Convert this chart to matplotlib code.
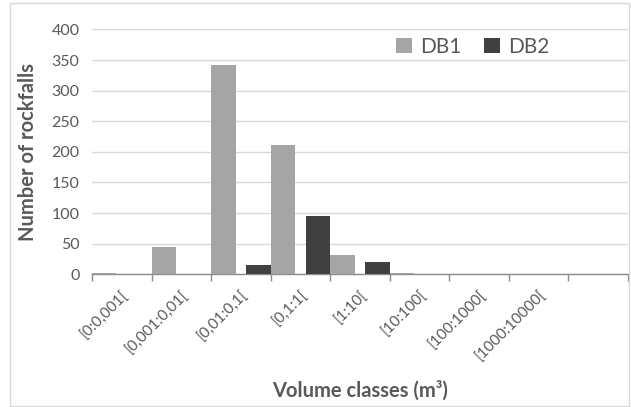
import matplotlib
matplotlib.use("Agg")
import matplotlib.pyplot as plt
from matplotlib.patches import Rectangle
import numpy as np

categories = ["[0:0,001[", "[0,001:0,01[", "[0,01:0,1[", "[0,1:1[", "[1:10[",
              "[10:100[", "[100:1000[", "[1000:10000[", ""]
db1 = [2, 44, 342, 211, 31, 2, 0, 1, 0]
db2 = [0, 0, 15, 95, 20, 0, 0, 0, 0]
yticks = [0, 50, 100, 150, 200, 250, 300, 350, 400]

plt.rcParams['font.family'] = ['Lato', 'DejaVu Sans']
TXT = '#595959'

fig = plt.figure(figsize=(6.31, 4.07), dpi=100)
ax = fig.add_axes([92/631, 1 - 274.3/407, (628-92)/631, (274.3-29.4)/407])

x = np.arange(len(categories))
w = 0.41
ax.bar(x - 0.5 + w/2, db1, width=w, color='#A5A5A5', label='DB1', zorder=3, linewidth=0)
ax.bar(x + 0.5 - w/2, db2, width=w, color='#404040', label='DB2', zorder=3, linewidth=0)

ax.set_xlim(-0.5, len(categories) - 0.5)
ax.set_ylim(0, 400)
ax.set_yticks(yticks)
ax.tick_params(axis='y', length=0, colors=TXT, labelsize=11.5, pad=9)
ax.yaxis.grid(True, color='#D9D9D9', linewidth=1, zorder=0)
ax.set_axisbelow(True)

ax.set_xticks(np.arange(len(categories) + 1) - 0.5, minor=False)
ax.set_xticklabels([])
ax.tick_params(axis='x', which='major', length=5, color='#8C8C8C', width=1)
ax.set_xticks(x, minor=True)
ax.set_xticklabels(categories, minor=True, rotation=45, ha='right',
                   rotation_mode='anchor', color=TXT, fontsize=11)
ax.tick_params(axis='x', which='minor', length=0, pad=10)

for s in ['top', 'right', 'left']:
    ax.spines[s].set_visible(False)
ax.spines['bottom'].set_color('#8C8C8C')
ax.spines['bottom'].set_linewidth(1)

ax.set_ylabel('Number of rockfalls', fontsize=14.5, fontweight='bold', color=TXT)
ax.yaxis.set_label_coords((38 - 92) / 536, 0.5)
ax.set_xlabel('Volume classes (m³)', fontsize=14.5, fontweight='bold', color=TXT)
ax.xaxis.set_label_coords(0.5, -(380 - 274.3) / 244.9)

leg = ax.legend(loc='center left', bbox_to_anchor=(396/631, 1 - 47/407), bbox_transform=fig.transFigure,
                ncol=2, frameon=False, fontsize=15, handlelength=0.75, handleheight=0.75,
                handletextpad=0.4, columnspacing=1.1, borderaxespad=0, borderpad=0)
for t in leg.get_texts():
    t.set_color(TXT)

fig.patches.append(Rectangle((10/631, 1/407), 619/631, 403/407, transform=fig.transFigure,
                             fill=False, edgecolor='#D9D9D9', linewidth=1))

fig.savefig('out.png', dpi=100, facecolor='white')
